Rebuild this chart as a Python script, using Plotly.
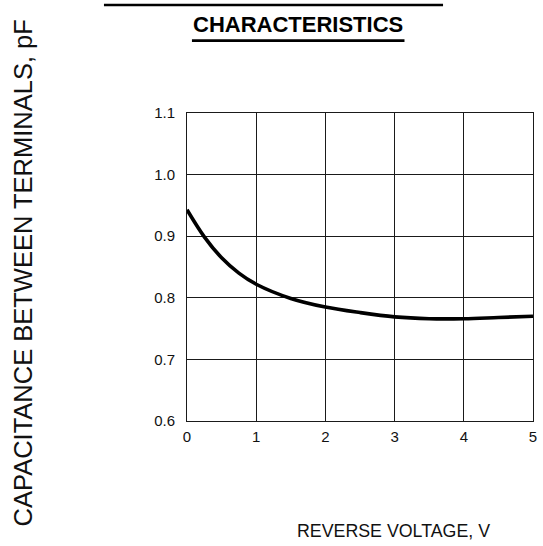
import plotly.graph_objects as go

# Data
voltage = [0, 0.25, 0.5, 0.75, 1.0, 1.5, 2.0, 2.5, 3.0, 3.5, 4.0, 4.5, 5.0]
capacitance = [0.943, 0.899, 0.865, 0.840, 0.822, 0.799, 0.785, 0.776, 0.769, 0.766, 0.766, 0.768, 0.770]

x_ticks = [0, 1, 2, 3, 4, 5]
x_tick_labels = ["0", "1", "2", "3", "4", "5"]
y_ticks = [0.6, 0.7, 0.8, 0.9, 1.0, 1.1]
y_tick_labels = ["0.6", "0.7", "0.8", "0.9", "1.0", "1.1"]

title_text = "CHARACTERISTICS"
x_title = "REVERSE VOLTAGE, V"
y_title = "CAPACITANCE BETWEEN TERMINALS, pF"

W, H = 543, 546
L, R, T, B = 187, 6, 113, 125
pw, ph = W - L - R, H - T - B


def px(xp):
    return (xp - L) / pw


def py(yp):
    return (H - B - yp) / ph


FONT = "Liberation Sans, Arial, sans-serif"

fig = go.Figure()
fig.add_trace(go.Scatter(
    x=voltage, y=capacitance, mode="lines",
    line=dict(color="black", width=3.6, shape="spline", smoothing=1.0),
    hoverinfo="skip", showlegend=False,
))

axis_common = dict(
    showgrid=True, gridcolor="#1a1a1a", gridwidth=1,
    showline=True, linecolor="#1a1a1a", linewidth=1, mirror=True,
    zeroline=False, ticks="",
    tickfont=dict(family=FONT, size=15, color="#111"),
)

fig.update_xaxes(range=[0, 5], tickvals=x_ticks, ticktext=x_tick_labels,
                 ticklabelstandoff=2, **axis_common)
fig.update_yaxes(range=[0.6, 1.1], tickvals=y_ticks, ticktext=y_tick_labels,
                 ticklabelstandoff=8, **axis_common)

fig.update_layout(
    width=W, height=H,
    margin=dict(l=L, r=R, t=T, b=B, pad=0),
    paper_bgcolor="white", plot_bgcolor="white",
    showlegend=False,
    annotations=[
        dict(text="<b>" + title_text + "</b>", xref="paper", yref="paper",
             x=px(299), y=py(25), xanchor="center", yanchor="middle",
             showarrow=False, font=dict(family=FONT, size=22, color="black")),
        dict(text=x_title, xref="paper", yref="paper",
             x=px(396), y=py(531), xanchor="center", yanchor="middle",
             showarrow=False, font=dict(family=FONT, size=17.8, color="#111")),
        dict(text=y_title, xref="paper", yref="paper", textangle=-90,
             x=px(21.5), y=py(273), xanchor="center", yanchor="middle",
             showarrow=False, font=dict(family=FONT, size=25.5, color="#111")),
    ],
    shapes=[
        dict(type="line", xref="paper", yref="paper",
             x0=px(192), x1=px(407), y0=py(40.7), y1=py(40.7),
             line=dict(color="black", width=2.7)),
        dict(type="line", xref="paper", yref="paper",
             x0=px(103), x1=px(446), y0=py(5), y1=py(5),
             line=dict(color="black", width=2.5)),
    ],
)

fig.write_html(
    "out.html",
    config={"displayModeBar": False, "staticPlot": True},
    post_script="document.body.style.margin='0';document.body.style.overflow='hidden';",
)
